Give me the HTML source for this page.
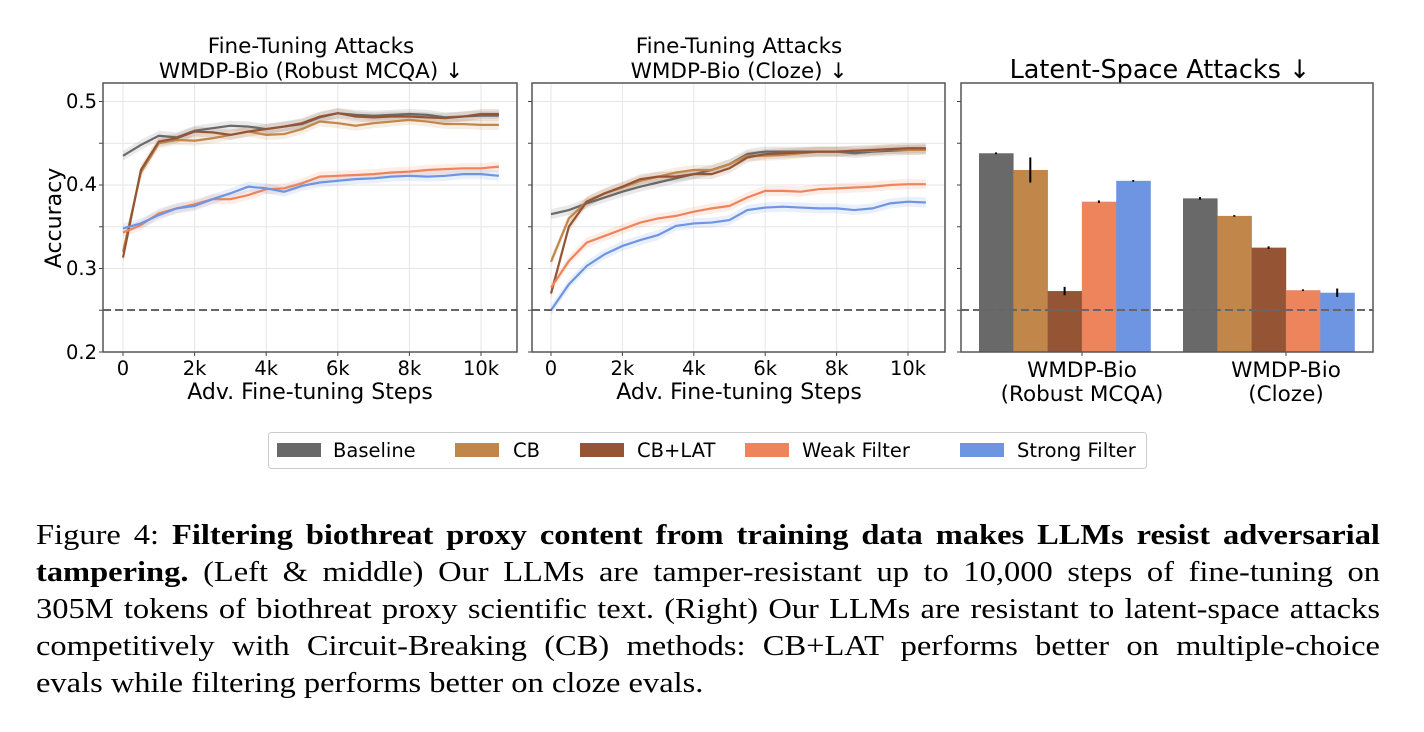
<!DOCTYPE html>
<html><head><meta charset="utf-8"><style>
body{margin:0;background:#fff;width:1424px;height:732px;overflow:hidden;position:relative}
svg{position:absolute;left:0;top:0}
#cap{position:absolute;left:36px;top:517px;width:1158.6px;transform:scaleX(1.16);transform-origin:0 0;font-family:"Liberation Serif",serif;font-size:28px;line-height:37.1px;color:#000}
#cap div{white-space:nowrap;text-align:justify;text-align-last:justify}
#cap div.last{text-align-last:left}
</style></head><body>
<svg id="s" width="1424" height="500" font-family="DejaVu Sans, Liberation Sans, sans-serif">
<g font-size="21.5" text-anchor="middle" fill="#000">
<text x="311" y="53">Fine-Tuning Attacks</text>
<text x="311" y="78">WMDP-Bio (Robust MCQA)  ↓</text>
<text x="739" y="53">Fine-Tuning Attacks</text>
<text x="739" y="78">WMDP-Bio (Cloze)  ↓</text>
<text x="1160" y="78" font-size="25.5">Latent-Space Attacks  ↓</text>
</g>
<g font-size="19.5" text-anchor="end">
<text x="97" y="108">0.5</text><text x="97" y="191">0.4</text><text x="97" y="275">0.3</text><text x="97" y="359">0.2</text>
</g>
<text transform="translate(61,218) rotate(-90)" font-size="22" text-anchor="middle">Accuracy</text>
<g font-size="19.5" text-anchor="middle" id="xt"></g>
<g font-size="22" text-anchor="middle">
<text x="310" y="399">Adv. Fine-tuning Steps</text>
<text x="739" y="399">Adv. Fine-tuning Steps</text>
<text x="1082" y="377" font-size="21.5">WMDP-Bio</text><text x="1082" y="401" font-size="21.5">(Robust MCQA)</text>
<text x="1286" y="377" font-size="21.5">WMDP-Bio</text><text x="1286" y="401" font-size="21.5">(Cloze)</text>
</g>
<g id="plots"></g>
<rect x="268.5" y="432.5" width="878" height="36" rx="3" fill="#fff" stroke="#ccc"/>
<rect x="277" y="443" width="44" height="14" fill="#696969"/>
<rect x="455" y="443" width="44" height="14" fill="#c0864a"/>
<rect x="580" y="443" width="44" height="14" fill="#955535"/>
<rect x="745" y="443" width="44" height="14" fill="#ee845c"/>
<rect x="960" y="443" width="44" height="14" fill="#6e95e2"/>
<g font-size="19.5"><text x="333" y="457">Baseline</text><text x="513" y="457">CB</text><text x="637" y="457">CB+LAT</text><text x="802" y="457">Weak Filter</text><text x="1017" y="457">Strong Filter</text></g>
</svg>
<div id="cap">
<div>Figure 4: <b>Filtering biothreat proxy content from training data makes LLMs resist adversarial</b></div>
<div><b>tampering.</b> (Left &amp; middle) Our LLMs are tamper-resistant up to 10,000 steps of fine-tuning on</div>
<div>305M tokens of biothreat proxy scientific text. (Right) Our LLMs are resistant to latent-space attacks</div>
<div>competitively with Circuit-Breaking (CB) methods: CB+LAT performs better on multiple-choice</div>
<div class="last">evals while filtering performs better on cloze evals.</div>
</div>
<script>
const NS="http://www.w3.org/2000/svg";
const P=document.getElementById('plots');
function el(t,a,p){const e=document.createElementNS(NS,t);for(const k in a)e.setAttribute(k,a[k]);(p||P).appendChild(e);return e;}
const Y=v=>352-(v-0.2)*835;
const C=["#696969","#c0864a","#955535","#ee845c","#6e95e2"];
const L=[
[0.435,0.448,0.459,0.457,0.465,0.468,0.471,0.470,0.467,0.470,0.473,0.481,0.486,0.484,0.483,0.484,0.485,0.484,0.481,0.482,0.483,0.483],
[0.32,0.415,0.45,0.454,0.453,0.456,0.46,0.464,0.46,0.461,0.467,0.476,0.474,0.471,0.474,0.476,0.478,0.476,0.473,0.473,0.472,0.472],
[0.313,0.418,0.452,0.456,0.464,0.463,0.46,0.464,0.467,0.47,0.474,0.482,0.486,0.482,0.481,0.482,0.482,0.481,0.48,0.482,0.485,0.485],
[0.343,0.352,0.366,0.372,0.377,0.383,0.383,0.388,0.395,0.396,0.402,0.41,0.411,0.412,0.413,0.415,0.416,0.418,0.419,0.42,0.42,0.422],
[0.348,0.354,0.364,0.372,0.375,0.383,0.39,0.398,0.396,0.392,0.399,0.403,0.405,0.407,0.408,0.41,0.411,0.41,0.411,0.413,0.413,0.411]];
const M=[
[0.365,0.37,0.378,0.385,0.392,0.398,0.403,0.408,0.413,0.418,0.425,0.437,0.44,0.44,0.44,0.44,0.44,0.438,0.44,0.441,0.442,0.443],
[0.308,0.36,0.38,0.39,0.397,0.405,0.41,0.415,0.418,0.418,0.425,0.435,0.435,0.436,0.438,0.44,0.44,0.441,0.441,0.443,0.442,0.442],
[0.27,0.35,0.38,0.39,0.398,0.407,0.41,0.41,0.413,0.413,0.42,0.433,0.437,0.438,0.439,0.44,0.44,0.441,0.442,0.443,0.444,0.444],
[0.277,0.309,0.331,0.339,0.347,0.355,0.36,0.363,0.368,0.372,0.375,0.385,0.393,0.393,0.392,0.395,0.396,0.397,0.398,0.4,0.401,0.401],
[0.25,0.281,0.303,0.317,0.327,0.334,0.34,0.351,0.354,0.355,0.358,0.37,0.373,0.374,0.373,0.372,0.372,0.37,0.372,0.378,0.38,0.379]];
const XT=document.getElementById('xt');
function line(x0,x1,data){
  const X=i=>x0+i*0.5*(x1-x0)/10;
  for(let k=0;k<=10;k+=2){el('line',{x1:X(k*2),x2:X(k*2),y1:83,y2:352,stroke:'#e6e6e6'});
    const t=el('text',{x:X(k*2),y:375},XT);t.textContent=k?k+'k':'0';
    el('line',{x1:X(k*2),x2:X(k*2),y1:352,y2:356,stroke:'#444'});}
  data.forEach((d,j)=>{
    let up=d.map((v,i)=>X(i)+','+Y(v+0.006)),dn=d.map((v,i)=>X(i)+','+Y(v-0.006)).reverse();
    el('polygon',{points:up.concat(dn).join(' '),fill:C[j],opacity:0.15});
  });
  data.forEach((d,j)=>el('polyline',{points:d.map((v,i)=>X(i)+','+Y(v)).join(' '),fill:'none',stroke:C[j],'stroke-width':2.2}));
}
function grids(x0,x1){for(const v of [0.3,0.35,0.4,0.45,0.5])el('line',{x1:x0,x2:x1,y1:Y(v),y2:Y(v),stroke:'#e6e6e6'});
 for(const v of [0.2,0.3,0.4,0.5,0.25,0.35,0.45])el('line',{x1:x0-4,x2:x0,y1:Y(v),y2:Y(v),stroke:'#444'});}
grids(103,517);grids(532,945);
line(123,481,L);line(551,908,M);
for(const v of [0.2,0.25,0.3,0.35,0.4,0.45,0.5])el('line',{x1:957,x2:961,y1:Y(v),y2:Y(v),stroke:'#444'});
const B=[[0.438,0.418,0.273,0.38,0.405],[0.384,0.363,0.325,0.274,0.271]];
const E=[[0.001,0.015,0.005,0.0015,0.001],[0.0015,0.001,0.0015,0.001,0.005]];
[979,1183].forEach((gx,g)=>{B[g].forEach((v,j)=>{const x=gx+j*34.3;
 el('rect',{x:x,y:Y(v),width:34.6,height:352-Y(v),fill:C[j]});
 el('line',{x1:x+17,x2:x+17,y1:Y(v+E[g][j]),y2:Y(v-E[g][j]),stroke:'#000','stroke-width':2});});
 el('line',{x1:gx+103,x2:gx+103,y1:352,y2:356,stroke:'#444'});});
for(const [a,b] of [[103,517],[532,945],[961,1373]])el('line',{x1:a,x2:b,y1:310,y2:310,stroke:'#666','stroke-width':2,'stroke-dasharray':'8,4'});
for(const [a,b] of [[103,517],[532,945],[961,1373]])el('rect',{x:a,y:83,width:b-a,height:269,fill:'none',stroke:'#555','stroke-width':1.5});
</script>
</body></html>
